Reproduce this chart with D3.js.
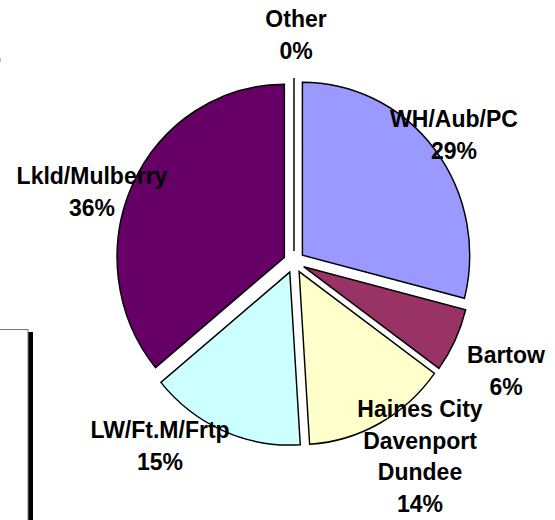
<!DOCTYPE html>
<html>
<head>
<meta charset="utf-8">
<script src="https://cdn.jsdelivr.net/npm/d3@7"></script>
<style>
  html, body { margin: 0; padding: 0; background: #fff; }
  svg { display: block; }
  text { font-family: "Liberation Sans", Arial, sans-serif; font-weight: bold; fill: #000; }
</style>
</head>
<body>
<script>
// ---- data ----
const categories = ["WH/Aub/PC", "Bartow", "Haines City\nDavenport\nDundee", "LW/Ft.M/Frtp", "Lkld/Mulberry", "Other"];
const values     = [29, 6, 14, 15, 36, 0];
const percentLabels = ["29%", "6%", "14%", "15%", "36%", "0%"];
const colors     = ["#9999FF", "#993366", "#FFFFCC", "#CCFFFF", "#660066", "#FFFFFF"];

// ---- layout ----
const W = 555, H = 520;
const cx = 294, cy = 262, R = 173, explode = 11, xScale = 0.967;
const fontSize = 23, lineH = 31.5;
const labelAnchors = [ // center x, first baseline y
  [454, 127], [506, 363], [420, 417], [160, 438], [92, 184], [296, 27]
];

const svg = d3.select("body").append("svg").attr("width", W).attr("height", H);

// cropped legend box fragment at left
svg.append("rect").attr("x", 28).attr("y", 332).attr("width", 5).attr("height", 200).attr("fill", "#000");
svg.append("rect").attr("x", -10).attr("y", 329.5).attr("width", 38).attr("height", 220)
  .attr("fill", "#fff").attr("stroke", "#777").attr("stroke-width", 1);
svg.append("rect").attr("x", 0).attr("y", 58).attr("width", 1).attr("height", 4).attr("fill", "#bbb");

const data = categories.map((c, i) => ({ name: c, value: values[i], pct: percentLabels[i], color: colors[i] }));

const pie = d3.pie().value(d => d.value).sort(null).startAngle(0).endAngle(2 * Math.PI);
const arcs = pie(data);
const arc = d3.arc().innerRadius(0).outerRadius(R);

const g = svg.append("g").attr("transform", `translate(${cx},${cy}) scale(${xScale},1)`);
g.selectAll("path").data(arcs).join("path")
  .attr("transform", d => {
    const a = (d.startAngle + d.endAngle) / 2;
    return `translate(${explode * Math.sin(a)},${-explode * Math.cos(a)})`;
  })
  .attr("d", arc)
  .attr("fill", d => d.data.color)
  .attr("stroke", "#000")
  .attr("stroke-width", 1.5)
  .attr("stroke-linejoin", "miter");

// labels
data.forEach((d, i) => {
  const lines = d.name.split("\n").concat([d.pct]);
  const t = svg.append("text").attr("text-anchor", "middle").attr("font-size", fontSize);
  lines.forEach((ln, j) => {
    t.append("tspan").attr("x", labelAnchors[i][0]).attr("y", labelAnchors[i][1] + j * lineH).text(ln);
  });
});
</script>
</body>
</html>
